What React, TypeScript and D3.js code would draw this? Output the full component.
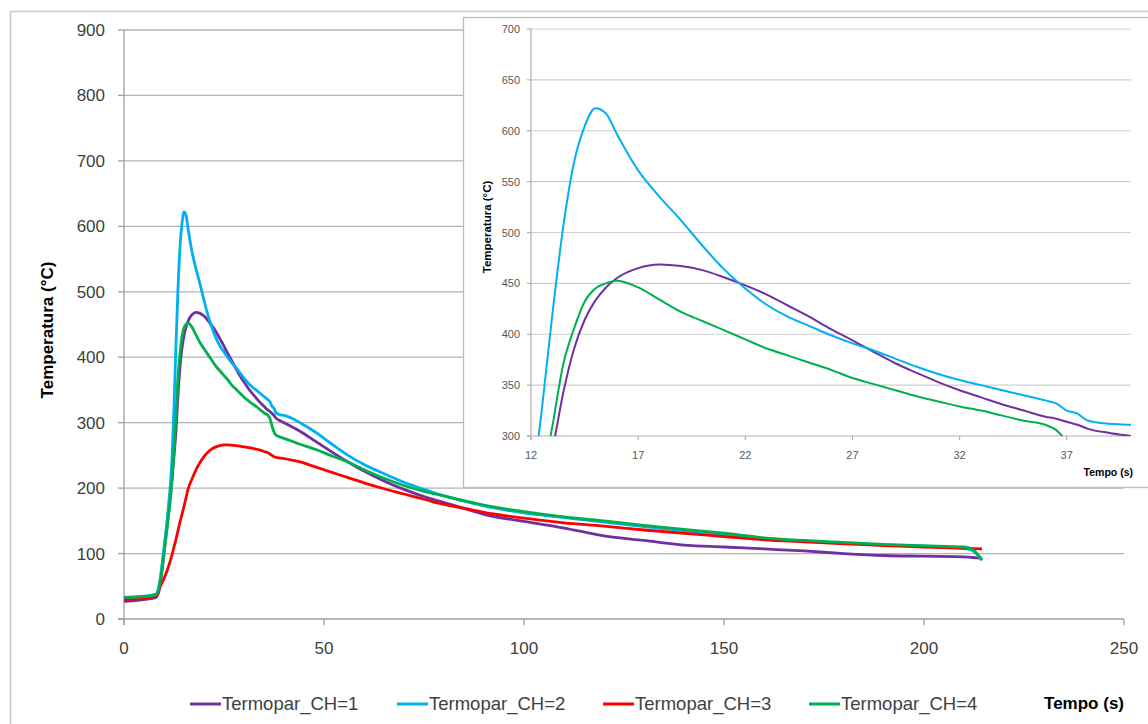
import React from "react";
import * as d3 from "d3";

const time = [0, 4, 8, 9, 10, 11, 12, 12.5, 13, 13.5, 14, 14.5, 15, 15.5, 16, 17, 18, 19, 20, 21, 22, 23, 24, 25, 26, 27, 28, 29, 30, 31, 32, 33, 34, 35, 36, 36.5, 37, 37.5, 38, 39, 40, 44, 48, 52, 56, 60, 65, 70, 75, 80, 85, 90, 100, 110, 120, 130, 140, 150, 160, 170, 180, 190, 200, 210, 212, 214.5];

const ch1 = [27, 29, 33, 50, 100, 160, 215, 250, 287, 342, 385, 414, 433, 446, 455, 465, 468.5, 467, 463, 456, 448, 439, 428, 417, 405, 394, 382.5, 371.5, 362, 353, 345, 338, 331, 325, 319, 317, 314, 311, 307, 303, 300, 287, 271, 255, 240, 226, 211, 198, 187, 178, 169, 160, 149, 139, 127, 120, 113, 110, 107, 104, 100, 97, 96, 95, 94, 93];

const ch2 = [33, 34, 38, 60, 110, 165, 245, 325, 420, 505, 568, 604, 622, 617, 597, 561, 535, 512, 487, 464, 445, 429, 417, 408, 399, 391, 384, 376, 368, 361, 355, 350, 345, 340, 335, 332, 325, 322, 315, 312, 311, 300, 285, 267, 250, 236, 222, 209, 198, 188, 180, 173, 162, 155, 148, 141, 135, 129, 123, 119, 116, 113, 111, 108, 105, 90];

const ch3 = [30, 31, 35, 49, 62, 78, 98, 110, 122, 135, 148, 160, 172, 185, 198, 214, 228, 239, 248, 255, 260, 263, 265, 266, 266, 265.5, 265, 264, 263, 262, 261, 259.5, 258, 256, 254, 252, 250, 248, 247, 246, 245, 240, 232, 224, 216, 208, 199, 191, 183, 175, 169, 163, 154, 147, 142, 136, 131, 126, 121, 118, 115, 112, 110, 108, 107.5, 107];

const ch4 = [33, 34, 37, 55, 100, 150, 210, 255, 310, 370, 405, 432, 445, 450, 452.5, 446, 434, 422, 413, 404, 395, 386, 379, 372, 365, 357, 351, 345, 339, 334, 329, 325, 320, 315, 311, 306, 295, 286, 281, 278, 276, 267, 259, 249, 240, 228, 215, 204, 195, 188, 181, 174, 164, 156, 150, 143, 137, 131, 124, 120, 117, 114, 112, 110, 107, 90];

const seriesNames = ["Termopar_CH=1", "Termopar_CH=2", "Termopar_CH=3", "Termopar_CH=4"];
const seriesColors = ["#7030A0", "#00B0F0", "#FF0000", "#00B050"];

const mainYTicks = [0, 100, 200, 300, 400, 500, 600, 700, 800, 900];
const mainXTicks = [0, 50, 100, 150, 200, 250];
const insetYTicks = [300, 350, 400, 450, 500, 550, 600, 650, 700];
const insetXTicks = [12, 17, 22, 27, 32, 37];

const FONT = "'Liberation Sans', Arial, sans-serif";

export default function App() {
  const W = 1148;
  const H = 724;
  const seriesData = [ch1, ch2, ch3, ch4];

  const x = d3.scaleLinear().domain([0, 250]).range([124, 1124]);
  const y = d3.scaleLinear().domain([0, 900]).range([619, 30]);
  const ix = d3.scaleLinear().domain([12, 40]).range([531, 1131]);
  const iy = d3.scaleLinear().domain([300, 700]).range([436, 29]);

  const mainLine = d3
    .line<number>()
    .x((_, i) => x(time[i]))
    .y((v) => y(v))
    .curve(d3.curveMonotoneX);
  const insetLine = d3
    .line<number>()
    .x((_, i) => ix(time[i]))
    .y((v) => iy(v))
    .curve(d3.curveMonotoneX);

  const legendX = [190, 397, 603, 809];

  return (
    <svg
      width={W}
      height={H}
      style={{ position: "absolute", left: 0, top: 0, background: "#fff" }}
      fontFamily={FONT}
    >
      <defs>
        <clipPath id="insetClip">
          <rect x={ix.range()[0]} y={iy.range()[1]} width={ix.range()[1] - ix.range()[0]} height={iy.range()[0] - iy.range()[1]} />
        </clipPath>
      </defs>
      <rect x={0} y={0} width={W} height={H} fill="#fff" />
      {/* outer frame */}
      <rect x={10.5} y={11.5} width={1200} height={800} fill="none" stroke="#c8c8c8" strokeWidth={1.5} />

      {/* main gridlines */}
      {mainYTicks.slice(1).map((t) => (
        <line key={"g" + t} x1={x(0)} x2={x(250)} y1={y(t)} y2={y(t)} stroke="#b4b4b4" strokeWidth={1.3} />
      ))}
      {/* main axes */}
      <line x1={x(0)} x2={x(0)} y1={y(900)} y2={y(0) + 6} stroke="#a0a0a0" strokeWidth={1.3} />
      <line x1={x(0) - 6} x2={x(250)} y1={y(0)} y2={y(0)} stroke="#a0a0a0" strokeWidth={1.3} />
      {mainYTicks.map((t) => (
        <g key={"yt" + t}>
          <line x1={x(0) - 6} x2={x(0)} y1={y(t)} y2={y(t)} stroke="#a0a0a0" strokeWidth={1.3} />
          <text x={105} y={y(t) + 6} textAnchor="end" fontSize={17} fill="#404040">
            {t}
          </text>
        </g>
      ))}
      {mainXTicks.map((t) => (
        <g key={"xt" + t}>
          <line x1={x(t)} x2={x(t)} y1={y(0)} y2={y(0) + 6} stroke="#a0a0a0" strokeWidth={1.3} />
          <text x={x(t)} y={654} textAnchor="middle" fontSize={17} fill="#404040">
            {t}
          </text>
        </g>
      ))}
      <text
        transform={`translate(53,330) rotate(-90)`}
        textAnchor="middle"
        fontSize={17}
        fontWeight="bold"
        fill="#000"
      >
        Temperatura (°C)
      </text>

      {/* main series */}
      <g>
        {seriesData.map((vals, k) => (
          <path key={"m" + k} d={mainLine(vals) || ""} fill="none" stroke={seriesColors[k]} strokeWidth={2.8} strokeLinejoin="round" />
        ))}
      </g>

      {/* legend */}
      {seriesNames.map((n, k) => (
        <g key={"lg" + k}>
          <line x1={legendX[k]} x2={legendX[k] + 31} y1={704} y2={704} stroke={seriesColors[k]} strokeWidth={3} />
          <text x={legendX[k] + 32} y={710} fontSize={18.5} fill="#404040">
            {n}
          </text>
        </g>
      ))}
      <text x={1124} y={709} textAnchor="end" fontSize={17} fontWeight="bold" fill="#000">
        Tempo (s)
      </text>

      {/* inset */}
      <rect x={463.5} y={17.5} width={700} height={470} fill="#fff" stroke="#bdbdbd" strokeWidth={1.3} />
      {insetYTicks.slice(1).map((t) => (
        <line key={"ig" + t} x1={ix(12)} x2={ix(40)} y1={iy(t)} y2={iy(t)} stroke="#cfcfcf" strokeWidth={1.2} />
      ))}
      <line x1={ix(12)} x2={ix(12)} y1={iy(700)} y2={iy(300) + 4} stroke="#b0b0b0" strokeWidth={1.2} />
      <line x1={ix(12) - 4} x2={ix(40)} y1={iy(300)} y2={iy(300)} stroke="#b0b0b0" strokeWidth={1.2} />
      {insetYTicks.map((t) => (
        <g key={"iyt" + t}>
          <line x1={ix(12) - 4} x2={ix(12)} y1={iy(t)} y2={iy(t)} stroke="#b0b0b0" strokeWidth={1.2} />
          <text x={520} y={iy(t) + 4} textAnchor="end" fontSize={11} fill="#595959">
            {t}
          </text>
        </g>
      ))}
      {insetXTicks.map((t) => (
        <g key={"ixt" + t}>
          <line x1={ix(t)} x2={ix(t)} y1={iy(300)} y2={iy(300) + 4} stroke="#b0b0b0" strokeWidth={1.2} />
          <text x={ix(t)} y={459} textAnchor="middle" fontSize={11} fill="#595959">
            {t}
          </text>
        </g>
      ))}
      <text
        transform={`translate(491,227) rotate(-90)`}
        textAnchor="middle"
        fontSize={11.5}
        fontWeight="bold"
        fill="#000"
      >
        Temperatura (°C)
      </text>
      <text x={1133} y={476} textAnchor="end" fontSize={10.5} fontWeight="bold" fill="#000">
        Tempo (s)
      </text>
      <g clipPath="url(#insetClip)">
        {seriesData.map((vals, k) => (
          <path key={"i" + k} d={insetLine(vals) || ""} fill="none" stroke={seriesColors[k]} strokeWidth={2} strokeLinejoin="round" />
        ))}
      </g>
    </svg>
  );
}
